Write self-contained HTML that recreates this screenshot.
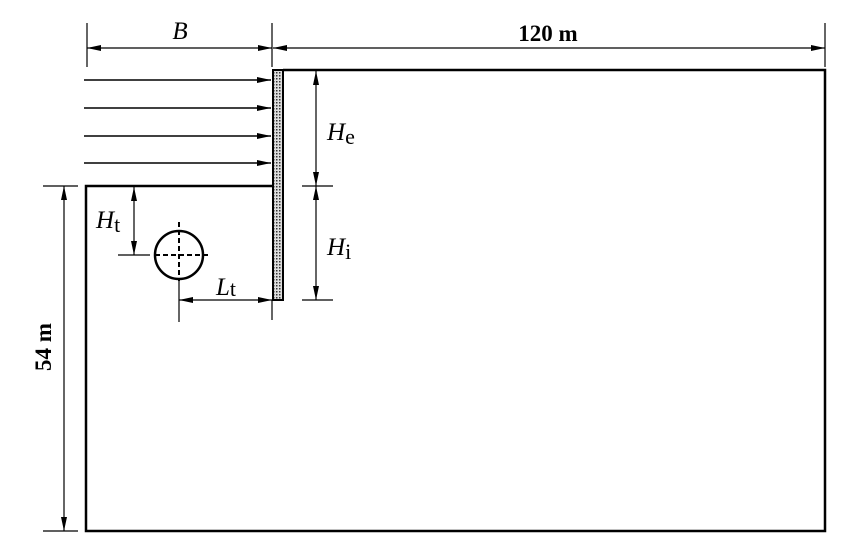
<!DOCTYPE html>
<html><head><style>body{margin:0;background:#fff}svg{display:block}</style></head><body>
<svg width="858" height="557" viewBox="0 0 858 557" xmlns="http://www.w3.org/2000/svg" font-family="Liberation Serif, serif">
<defs>
<marker id="a" viewBox="0 0 14 6" refX="14" refY="3" markerWidth="14" markerHeight="6" markerUnits="userSpaceOnUse" orient="auto-start-reverse"><path d="M0,0L14,3L0,6z" fill="#000"/></marker>
<pattern id="d" width="3" height="3" patternUnits="userSpaceOnUse"><rect width="3" height="3" fill="#ddd"/><rect x="0" y="0" width="1.5" height="1.5" fill="#333"/></pattern>
</defs>
<g stroke="#000" fill="none">
<path d="M283,70H825V531H86V186H272" stroke-width="2.5"/>
<rect x="273" y="70" width="10" height="230" fill="url(#d)" stroke-width="2"/>
<g stroke-width="1.5">
<line x1="84" y1="80" x2="271" y2="80" marker-end="url(#a)"/>
<line x1="84" y1="108" x2="271" y2="108" marker-end="url(#a)"/>
<line x1="84" y1="136" x2="271" y2="136" marker-end="url(#a)"/>
<line x1="84" y1="163" x2="271" y2="163" marker-end="url(#a)"/>
</g>
<g stroke-width="1.2">
<line x1="87" y1="23" x2="87" y2="67"/>
<line x1="272" y1="23" x2="272" y2="67"/>
<line x1="825" y1="23" x2="825" y2="67"/>
<line x1="272" y1="300" x2="272" y2="320"/>
<line x1="87" y1="48" x2="272" y2="48" marker-start="url(#a)" marker-end="url(#a)"/>
<line x1="273" y1="48" x2="825" y2="48" marker-start="url(#a)" marker-end="url(#a)"/>
<line x1="43" y1="186" x2="78" y2="186"/>
<line x1="43" y1="531" x2="78" y2="531"/>
<line x1="64" y1="186" x2="64" y2="531" marker-start="url(#a)" marker-end="url(#a)"/>
<line x1="302" y1="186" x2="333" y2="186"/>
<line x1="302" y1="300" x2="333" y2="300"/>
<line x1="316" y1="71" x2="316" y2="186" marker-start="url(#a)" marker-end="url(#a)"/>
<line x1="316" y1="186" x2="316" y2="300" marker-start="url(#a)" marker-end="url(#a)"/>
<line x1="118" y1="255" x2="150" y2="255"/>
<line x1="134" y1="187" x2="134" y2="255" marker-start="url(#a)" marker-end="url(#a)"/>
<line x1="179" y1="281" x2="179" y2="322"/>
<line x1="179" y1="300" x2="272" y2="300" marker-start="url(#a)" marker-end="url(#a)"/>
</g>
<circle cx="179" cy="255" r="24" stroke-width="2.5"/>
<g stroke-width="2" stroke-dasharray="5,3">
<line x1="179" y1="222" x2="179" y2="281"/>
<line x1="155" y1="255" x2="208" y2="255"/>
</g>
</g>
<g fill="#000" font-size="25">
<text x="180" y="39" font-style="italic" text-anchor="middle">B</text>
<text x="548" y="41" font-weight="bold" font-size="23" text-anchor="middle">120 m</text>
<text x="327" y="140" font-style="italic">H<tspan font-style="normal" font-size="22" dy="4">e</tspan></text>
<text x="327" y="255" font-style="italic">H<tspan font-style="normal" font-size="22" dy="4">i</tspan></text>
<text x="96" y="228" font-style="italic">H<tspan font-style="normal" font-size="22" dy="4">t</tspan></text>
<text x="216" y="295" font-style="italic">L<tspan font-style="normal" font-size="22" dy="1">t</tspan></text>
<text transform="translate(51,347) rotate(-90)" font-weight="bold" font-size="23" text-anchor="middle">54 m</text>
</g>
</svg>
</body></html>
